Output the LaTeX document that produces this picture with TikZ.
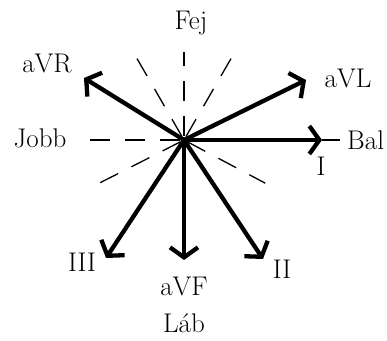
\documentclass[tikz,border=0pt]{standalone}
\usepackage{fontspec}
\usetikzlibrary{arrows.meta}

\begin{document}
\begin{tikzpicture}[x=1pt,y=1pt,
    vec/.style={line width=4.3pt, -{Straight Barb[length=10pt,width=28pt]}},
    spoke/.style={line width=1.3pt, dash pattern=on 20pt off 15pt, dash phase=31pt},
    lbl/.style={font=\fontsize{27}{32}\selectfont, inner sep=0pt}]
    \useasboundingbox (0,0) rectangle (387,340);
    \coordinate (O) at (184,200);
    % dashed spokes, opposite to the leads
    \foreach \ang/\len in {60/94, 90/88, 120/98, 180/97, 207/102, 332/92}{
        \draw[spoke] (O) -- ++(\ang:\len);
    }
    % arrow tips
    \coordinate (tI) at (322,200);
    \coordinate (tL) at (306,260);
    \coordinate (tR) at (84,262);
    \coordinate (tIII) at (106,82);
    \coordinate (tF) at (184,80);
    \coordinate (tII) at (263,81);
    \coordinate (balEnd) at (340,200);
    \draw[line width=1.3pt] (tI) -- (balEnd);
    \foreach \tip in {tI, tL, tR, tIII, tF, tII}{
        \draw[vec] (O) -- (\tip);
    }
    % labels
    \node[lbl, anchor=west] (bal) at ([xshift=7pt]balEnd) {Bal};
    \node[lbl] (lI) at (321,174) {I};
    \node[lbl] (lL) at (348,262) {aVL};
    \node[lbl] (lR) at (47,277) {aVR};
    \node[lbl] (lIII) at (82,78) {III};
    \node[lbl] (lF) at (184,54) {aVF};
    \node[lbl] (lII) at (282,71) {II};
    \node[lbl] (fej) at (191,317) {Fej};
    \node[lbl] (jobb) at (40,202) {Jobb};
    \node[lbl] (lab) at (184,17) {Láb};
\end{tikzpicture}
\end{document}
